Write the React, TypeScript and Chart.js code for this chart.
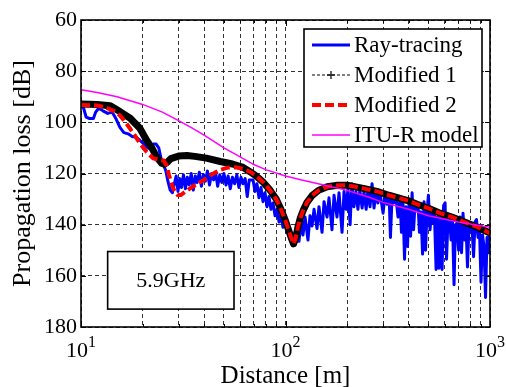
import React, { useEffect, useRef } from 'react';
import { Chart, registerables } from 'chart.js';

Chart.register(...registerables);

const FONT = "'Liberation Serif', 'DejaVu Serif', serif";

// ---- axes ----
const xTickValues = [10, 20, 30, 40, 50, 60, 70, 80, 90, 100, 200, 300, 400, 500, 600, 700, 800, 900, 1000];
const yMin = 60;
const yMax = 180;
const yStep = 20;

// ---- series ----
const seriesLabels = ['Ray-tracing', 'Modified 1', 'Modified 2', 'ITU-R model'];

const rtDist = [
  10, 10.3, 10.6, 11, 11.5, 11.8, 12.2, 12.8, 13.5, 14.2, 14.8, 15.5, 16.2, 17, 17.8, 18.6, 19.4, 20.3, 21.2, 22,
  22.6, 23.3, 24, 24.6, 25.3, 26, 26.6, 27.3, 28,
  28.6, 29.2, 29.8, 30.4, 31, 31.7, 32.4, 33.1, 33.8, 34.6, 35.4, 36.2, 37, 37.9, 38.8, 39.7, 40.6, 41.5, 42.5, 43.5,
  44.5, 45.5, 46.6, 47.7, 48.8, 50, 51.2, 52.4, 53.7, 55, 56.4, 57.8, 59.2, 60.6, 62, 63.5, 65, 66.5,
  69.4, 70.9, 72.5, 74.2, 75.9, 77.6, 79.4, 81.2, 83, 84.9, 86.9, 88.9, 90.9, 93, 95.1, 97.2, 99.4, 101.7, 104,
  106.4, 108.8, 111.3, 113.8, 116.4, 119.1, 121.8, 124.6, 128.8, 131.8, 134.8, 137.9, 142.6, 145.8, 150.9, 154.3,
  159.6, 163.2, 168.8, 172.7, 178.6, 182.7, 189, 193.3,
  198, 202, 207, 211, 216, 221, 226, 231, 237, 242, 248, 253, 259, 265, 271, 277, 283, 290, 300, 307, 314, 321,
  326, 332, 339, 347, 355, 363, 369, 375, 382, 388, 395, 402, 409, 416, 423, 430, 437, 445, 452,
  460, 468, 476, 484, 492, 500, 509, 518, 526, 535, 545, 554, 563, 573, 583, 593, 603, 613, 623, 634, 645, 656,
  667, 678, 690, 702, 714, 726, 738, 751, 763, 776, 789, 803, 817, 831, 845, 859, 874, 889, 904, 919, 935, 951,
  967, 983, 1000,
];
const rtLoss = [
  93.5, 94.5, 98, 98.5, 98.5, 96, 94.5, 95.5, 96.5, 96, 98.5, 102, 104, 104.5, 105.5, 105.8, 107, 108.5, 110, 110.5,
  108.5, 108.5, 110, 114, 116.5, 119, 123, 126.5, 127.5,
  124, 121, 127, 122, 125.5, 120.5, 126, 121.5, 124.5, 120, 126.5, 121, 123.5, 119.5, 125, 120.5, 123, 119, 124.5, 120,
  122.5, 119.5, 125, 120.5, 123.5, 120, 124.5, 121, 126, 121.5, 124, 120.5, 125.5, 121.5, 124, 122, 129, 122.5,
  122.5, 127, 124, 129.5, 125.5, 131, 127.5, 133, 129, 134, 131.5, 136.5, 134, 139, 136.5, 141, 139, 143, 141.5,
  146, 145, 147, 142, 146.5, 139, 144, 137, 146, 136.5, 140.5, 134, 141.5, 133, 143, 131,
  137, 129.5, 142, 128.5, 137, 127.5, 143, 127,
  134, 126, 140, 124, 133, 127, 134, 126.5, 133.5, 127, 134, 126.5, 133, 124, 133.5, 127, 131.5, 127.5, 135.5, 128, 132, 128.5,
  145, 129, 131.5, 129.5, 137, 130, 143, 131, 153.5, 133, 148.5, 131, 144.5, 127.5, 142, 132, 134, 133, 143,
  135, 151.5, 131, 150, 135, 128.5, 142, 135, 139.5, 136, 157.5, 137, 157, 136, 157.5, 132.5, 131.5, 153.5, 138, 137, 146, 139,
  163.5, 140, 139.5, 150, 137, 151, 135.5, 146, 140, 156.5, 141, 142, 141, 152.5, 139, 138, 145, 143, 162.5, 144, 148.5, 168.5,
  145, 151, 142,
];

const m1Dist = [
  10, 12, 13.9, 15.5, 17.4, 19.4, 20.9, 22.2, 23.4, 24.8, 25.6, 26.5, 27.5, 30, 33, 36, 41, 48, 55, 62,
  67, 72, 78, 84, 90, 95, 100, 104, 107, 109.5, 112, 115, 118, 122, 127, 135, 145, 160, 180, 200,
  240, 280, 320, 363, 400, 440, 500, 570, 650, 740, 870, 1000,
];
const m1Loss = [
  92.8, 93, 93.5, 95.8, 98.4, 102.3, 106.9, 110, 113.5, 116, 116.4, 115.5, 114.2, 113.2, 113, 113.3, 114, 115.3, 116.3, 117.6,
  119.3, 121, 123.5, 126.5, 130, 134, 138.5, 142.5, 145.5, 147.5, 145.5, 141, 137.5, 134.5, 131.5, 128.6, 126.6, 125.2, 124.6, 124.6,
  125.8, 127, 128.5, 129.7, 130.7, 132, 133.6, 135.5, 137, 138.8, 141, 143.3,
];

const m2Dist = [
  10, 12, 13.2, 14.5, 15.5, 16.5, 17.4, 18.3, 19.4, 20.9, 22.5, 24, 25.3, 26.3, 26.9, 27.7, 28.7, 29.7, 30.8, 32.5,
  35.3, 38, 41.3, 44, 47.8, 52, 57, 62,
  67, 72, 78, 84, 90, 95, 100, 104, 107, 109.5, 112, 115, 118, 122, 127, 135, 145, 160, 180, 200,
  240, 280, 320, 363, 400, 440, 500, 570, 650, 740, 870, 1000,
];
const m2Loss = [
  93.2, 93.4, 94.2, 95.6, 97.3, 100, 102.5, 105, 108.2, 111.5, 114, 114.7, 114.9, 117, 120.5, 124, 127, 128.4, 128.4, 127,
  125.1, 123.5, 121.8, 120.2, 118.6, 117.7, 117.6, 118.2,
  119.3, 121, 123.5, 126.5, 130, 134, 138.5, 142.5, 145.5, 147.5, 145.5, 141, 137.5, 134.5, 131.5, 128.6, 126.6, 125.2, 124.6, 124.6,
  125.8, 127, 128.5, 129.7, 130.7, 132, 133.6, 135.5, 137, 138.8, 141, 143.3,
];

const ituDist = [10, 12, 15, 20, 25, 30, 35, 40, 50, 60, 70, 80, 100, 120, 150, 200, 250, 300, 400, 500, 700, 1000];
const ituLoss = [87.3, 88.3, 90, 93, 96, 99.3, 102.3, 105, 110, 113.5, 116.5, 118.5, 121, 122.5, 124.3, 126.6, 129, 131.3, 134, 136.5, 139, 141];

// ---- annotation ----
const noteText = '5.9GHz';
const noteDist = [13.5, 56];
const noteLoss = [150.5, 173];

function pts(xs: number[], ys: number[]) {
  return xs.map((x, i) => ({ x, y: ys[i] }));
}

const overlayPlugin = {
  id: 'overlay',
  afterDraw(chart: any) {
    const { ctx, chartArea: ca, scales } = chart;
    const xs = scales.x;
    const ys = scales.y;
    ctx.save();

    ctx.strokeStyle = '#000';
    ctx.lineWidth = 1;
    ctx.setLineDash([]);
    const seg = (x1: number, y1: number, x2: number, y2: number) => {
      ctx.beginPath();
      ctx.moveTo(x1, y1);
      ctx.lineTo(x2, y2);
      ctx.stroke();
    };
    ys.ticks.forEach((t: any) => {
      const py = Math.round(ys.getPixelForValue(t.value)) + 0.5;
      seg(ca.left, py, ca.left + 5, py);
      seg(ca.right - 5, py, ca.right, py);
    });
    xs.ticks.forEach((t: any) => {
      const e = Math.log10(t.value);
      const major = Math.abs(e - Math.round(e)) < 1e-9;
      const len = major ? 6 : 3;
      const px = Math.round(xs.getPixelForValue(t.value)) + 0.5;
      seg(px, ca.bottom, px, ca.bottom - len);
      seg(px, ca.top, px, ca.top + len);
    });

    ctx.lineWidth = 1.6;
    ctx.strokeRect(ca.left, ca.top, ca.right - ca.left, ca.bottom - ca.top);

    ctx.fillStyle = '#000';
    ctx.textAlign = 'left';
    ctx.textBaseline = 'alphabetic';
    xs.ticks.forEach((t: any) => {
      const e = Math.log10(t.value);
      if (Math.abs(e - Math.round(e)) > 1e-9) return;
      const px = xs.getPixelForValue(t.value);
      const expText = String(Math.round(e));
      ctx.font = `22px ${FONT}`;
      const bw = ctx.measureText('10').width;
      ctx.font = `16px ${FONT}`;
      const ew = ctx.measureText(expText).width;
      const start = px - (bw + ew) / 2;
      ctx.font = `22px ${FONT}`;
      ctx.fillText('10', start, ca.bottom + 30);
      ctx.font = `16px ${FONT}`;
      ctx.fillText(expText, start + bw, ca.bottom + 20);
    });

    const bx0 = xs.getPixelForValue(noteDist[0]);
    const bx1 = xs.getPixelForValue(noteDist[1]);
    const by0 = ys.getPixelForValue(noteLoss[0]);
    const by1 = ys.getPixelForValue(noteLoss[1]);
    ctx.fillStyle = '#fff';
    ctx.fillRect(bx0, by0, bx1 - bx0, by1 - by0);
    ctx.strokeStyle = '#000';
    ctx.lineWidth = 1.6;
    ctx.strokeRect(bx0, by0, bx1 - bx0, by1 - by0);
    ctx.fillStyle = '#000';
    ctx.font = `22px ${FONT}`;
    ctx.textAlign = 'center';
    ctx.textBaseline = 'middle';
    ctx.fillText(noteText, (bx0 + bx1) / 2, (by0 + by1) / 2 + 1);

    const lx = ca.right - 186;
    const ly = ca.top + 9;
    const lw = 178;
    const lh = 118;
    ctx.fillStyle = '#fff';
    ctx.fillRect(lx, ly, lw, lh);
    ctx.strokeStyle = '#000';
    ctx.lineWidth = 1.6;
    ctx.strokeRect(lx, ly, lw, lh);
    const styles = [
      { color: '#0000ff', width: 3, dash: [] as number[], marker: false },
      { color: '#000000', width: 1, dash: [3, 2], marker: true },
      { color: '#ff0000', width: 4, dash: [9, 4], marker: false },
      { color: '#ff00ff', width: 1.5, dash: [] as number[], marker: false },
    ];
    chart.data.datasets.forEach((ds: any, i: number) => {
      const cy = ly + 16 + i * 30;
      const st = styles[i];
      ctx.strokeStyle = st.color;
      ctx.lineWidth = st.width;
      ctx.setLineDash(st.dash);
      ctx.lineCap = 'butt';
      ctx.beginPath();
      ctx.moveTo(lx + 8, cy);
      ctx.lineTo(lx + 46, cy);
      ctx.stroke();
      ctx.setLineDash([]);
      if (st.marker) {
        ctx.lineWidth = 1.2;
        seg(lx + 27 - 4, cy, lx + 27 + 4, cy);
        seg(lx + 27, cy - 4, lx + 27, cy + 4);
      }
      ctx.fillStyle = '#000';
      ctx.font = `23px ${FONT}`;
      ctx.textAlign = 'left';
      ctx.textBaseline = 'middle';
      ctx.fillText(ds.label, lx + 50, cy + 1);
    });

    ctx.restore();
  },
};

export default function App() {
  const canvasRef = useRef<HTMLCanvasElement | null>(null);

  useEffect(() => {
    document.body.style.margin = '0';
    const canvas = canvasRef.current;
    if (!canvas) return;
    const chart = new Chart(canvas, {
      type: 'line',
      data: {
        datasets: [
          {
            label: seriesLabels[0],
            data: pts(rtDist, rtLoss),
            borderColor: '#0000ff',
            borderWidth: 3,
            borderJoinStyle: 'round',
            borderCapStyle: 'round',
            pointRadius: 0,
            tension: 0,
            order: 4,
          },
          {
            label: seriesLabels[1],
            data: pts(m1Dist, m1Loss),
            borderColor: '#000000',
            borderWidth: 7,
            borderJoinStyle: 'round',
            pointRadius: 0,
            tension: 0,
            order: 3,
          },
          {
            label: seriesLabels[2],
            data: pts(m2Dist, m2Loss),
            borderColor: '#ff0000',
            borderWidth: 4,
            borderDash: [9, 4],
            borderJoinStyle: 'miter',
            pointRadius: 0,
            tension: 0,
            order: 2,
          },
          {
            label: seriesLabels[3],
            data: pts(ituDist, ituLoss),
            borderColor: '#ff00ff',
            borderWidth: 1.5,
            pointRadius: 0,
            tension: 0,
            order: 1,
          },
        ],
      } as any,
      options: {
        responsive: false,
        animation: false,
        devicePixelRatio: 1,
        layout: { padding: { top: 20, right: 16, left: 0, bottom: 0 } },
        plugins: {
          legend: { display: false },
          tooltip: { enabled: false },
        },
        scales: {
          x: {
            type: 'logarithmic',
            min: 10,
            max: 1000,
            afterBuildTicks: (scale: any) => {
              scale.ticks = xTickValues.map((v) => ({ value: v }));
            },
            afterFit: (scale: any) => {
              scale.height = 60;
            },
            ticks: { display: false, autoSkip: false },
            grid: { color: 'rgba(0,0,0,0.8)', lineWidth: 1, drawTicks: false },
            border: { display: false, dash: [4, 3] },
            title: {
              display: true,
              text: 'Distance [m]',
              color: '#000',
              font: { family: FONT, size: 25, lineHeight: 0.84 },
              padding: { top: 0, bottom: 0 },
            },
          },
          y: {
            type: 'linear',
            reverse: true,
            min: yMin,
            max: yMax,
            afterFit: (scale: any) => {
              scale.width = 81;
            },
            ticks: {
              stepSize: yStep,
              color: '#000',
              padding: 4,
              font: { family: FONT, size: 22 },
            },
            grid: { color: 'rgba(0,0,0,0.8)', lineWidth: 1, drawTicks: false },
            border: { display: false, dash: [4, 3] },
            title: {
              display: true,
              text: 'Propagation loss [dB]',
              color: '#000',
              font: { family: FONT, size: 26, lineHeight: 0.84 },
              padding: { top: 12, bottom: 0 },
            },
          },
        },
      } as any,
      plugins: [overlayPlugin],
    });
    return () => chart.destroy();
  }, []);

  return (
    <div style={{ width: 506, height: 387 }}>
      <canvas ref={canvasRef} width={506} height={387} style={{ display: 'block', width: 506, height: 387 }} />
    </div>
  );
}
